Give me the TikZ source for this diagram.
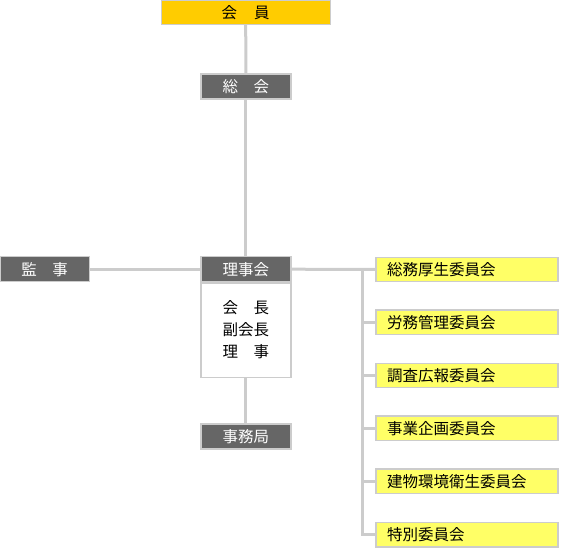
\documentclass[tikz,border=0pt]{standalone}
\usepackage{fontspec}
\setmainfont{Noto Sans CJK JP}
\usetikzlibrary{backgrounds}
\definecolor{lineg}{HTML}{CCCCCC}
\definecolor{darkg}{HTML}{666666}
\definecolor{gold}{HTML}{FFCC00}
\definecolor{lyel}{HTML}{FFFF66}
\begin{document}
\begin{tikzpicture}[x=1pt,y=-1pt,
  box/.style={draw=lineg,line width=1.2pt,inner sep=0pt,font=\fontsize{15.5}{17}\selectfont},
  darkbox/.style={box,fill=darkg,text=white,minimum width=90pt,minimum height=25pt},
  topbox/.style={box,fill=gold,text=black,minimum width=169pt,minimum height=24pt},
  combox/.style={box,fill=lyel,text=black,minimum width=182pt,minimum height=24.5pt,text width=160pt,align=left},
  conn/.style={draw=lineg,line width=3pt}]
\useasboundingbox (0,0) rectangle (565,548);
\node[topbox] (kaiin) at (245.7,12.5) {会\hspace{1.1em}員};
\node[darkbox] (sokai) at (245.9,86.5) {総\hspace{1em}会};
\node[darkbox,minimum width=89pt] (kanji) at (44.7,269.2) {監\hspace{1em}事};
\node[darkbox] (rijikai) at (245.9,269.2) {理事会};
\node[box,fill=white,minimum width=90pt,minimum height=94.3pt,anchor=north,align=center,
  font=\fontsize{15.5}{22}\selectfont] (yakuin) at (rijikai.south) {会\hspace{1em}長\\副会長\\理\hspace{1em}事};
\node[darkbox] (jimukyoku) at (245.9,436.5) {事務局};
\node[combox] (c1) at (467,269.5) {総務厚生委員会};
\node[combox] (c2) at (467,322.2) {労務管理委員会};
\node[combox] (c3) at (467,375.5) {調査広報委員会};
\node[combox] (c4) at (467,428.2) {事業企画委員会};
\node[combox] (c5) at (467,481.2) {建物環境衛生委員会};
\node[combox] (c6) at (467,534.8) {特別委員会};
\coordinate (trunk) at (362,269.3);
\begin{scope}[on background layer]
\draw[conn] (kaiin.south) -- (sokai.north);
\draw[conn] (sokai.south) -- (rijikai.north);
\draw[conn] (kanji.east) -- (rijikai.west);
\draw[conn] (yakuin.south) -- (jimukyoku.north);
\draw[conn] (rijikai.east) -- (c1.west);
\draw[conn,line cap=rect] (trunk) |- (c6.west);
\foreach \c in {c2,c3,c4,c5}{\draw[conn] (trunk |- \c.west) -- (\c.west);}
\end{scope}
\end{tikzpicture}
\end{document}
